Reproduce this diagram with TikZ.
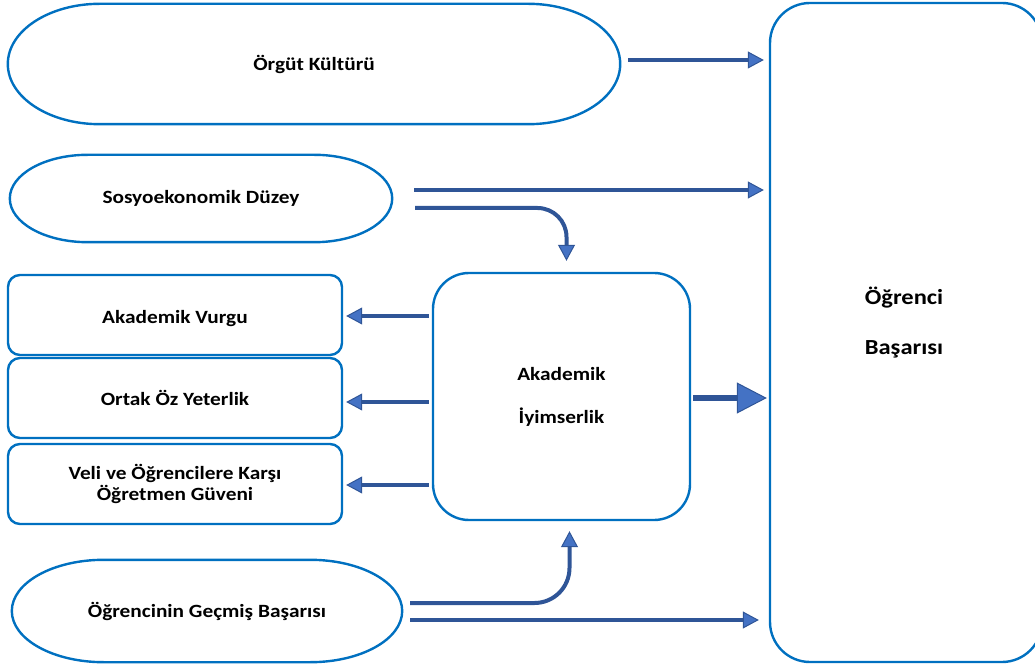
\documentclass[tikz,border=0pt]{standalone}
\usepackage{fontspec}
\setmainfont{Carlito}[FakeStretch=1.14]
\usetikzlibrary{arrows.meta,calc}
\definecolor{boxblue}{RGB}{0,112,192}
\definecolor{arrdark}{RGB}{47,85,151}
\definecolor{arrfill}{RGB}{68,114,196}

% stadium outline with elliptical ends around a named node: #1 node, #2 end radius
\newcommand{\stadiumline}[2]{%
  \draw[boxline] let \p1=(#1.north west), \p2=(#1.south east), \n1={(\y1-\y2)/2} in
    (\x1+#2pt,\y1) -- (\x2-#2pt,\y1)
    arc[start angle=90, end angle=-90, x radius=#2pt, y radius=\n1]
    -- (\x1+#2pt,\y2)
    arc[start angle=270, end angle=90, x radius=#2pt, y radius=\n1] -- cycle;}

\begin{document}
\begin{tikzpicture}[x=1pt,y=1pt,
  boxline/.style={draw=boxblue, line width=2.4pt},
  lbl/.style={font=\fontsize{18.7}{22}\selectfont\bfseries, text=black, align=center, inner sep=0pt},
  biglbl/.style={lbl, font=\fontsize{21.5}{26}\selectfont\bfseries},
  shell/.style={lbl, draw=none},
  rbox/.style={lbl, boxline, rounded corners=#1},
  arr/.style={draw=arrdark, line width=4pt,
    -{Triangle[length=16pt,width=17pt,fill=arrfill,line width=1pt]}},
  bigarr/.style={draw=arrdark, line width=6.5pt,
    -{Triangle[length=30pt,width=31pt,fill=arrfill,line width=1pt]}},
]
\useasboundingbox (0,0) rectangle (1035,667);

% outcome box on the right
\node[rbox=40pt, minimum width=272pt, minimum height=659pt,
      label={[biglbl, yshift=10pt, xshift=-2pt]center:{Öğrenci\\[24pt]Başarısı}}] (ogr) at (906,334.5) {};

% input factors
\node[shell, minimum width=612pt, minimum height=120pt] (org) at (314,603) {Örgüt Kültürü};
\stadiumline{org}{92}
\node[shell, minimum width=382pt, minimum height=87pt] (sos) at (201,468.5) {Sosyoekonomik Düzey};
\stadiumline{sos}{78}
\node[shell, minimum width=390pt, minimum height=102pt] (gec) at (207,56) {Öğrencinin Geçmiş Başarısı};
\stadiumline{gec}{92}

% central construct and its dimensions
\node[rbox=36pt, minimum width=257pt, minimum height=247pt] (ak) at (561.5,270.5)
  {Akademik\\[21pt]İyimserlik};
\node[rbox=12pt, minimum width=334pt, minimum height=80pt,
      label={[lbl, yshift=-4pt]center:Akademik Vurgu}] (vur) at (175,352) {};
\node[rbox=12pt, minimum width=334pt, minimum height=80pt] (ort) at (175,269) {Ortak Öz Yeterlik};
\node[rbox=12pt, minimum width=334pt, minimum height=80pt] (vel) at (175,183)
  {Veli ve Öğrencilere Karşı\\[-1pt]Öğretmen Güveni};

% direct effects on the outcome
\draw[arr, shorten >=5pt] ([shift={(8,4)}]org.east) coordinate (s1) -- (s1 -| ogr.west);
\draw[arr, shorten >=5pt] ([shift={(22,8.5)}]sos.east) coordinate (s2) -- (s2 -| ogr.west);
\draw[arr, shorten >=10pt] ([shift={(8,-9)}]gec.east) coordinate (s3) -- (s3 -| ogr.west);
\draw[bigarr, shorten >=2pt] ([shift={(2,-1.5)}]ak.east) coordinate (s4) -- (s4 -| ogr.west);

% curved paths into the central construct
\draw[arr] ([shift={(23,-9.5)}]sos.east) coordinate (s5) -- ($(s5 -| ak.north)+(-24,0)$)
  arc[start angle=90, end angle=0, radius=29] -- ([shift={(5,11)}]ak.north);
\draw[arr] ([shift={(8,8)}]gec.east) coordinate (s6) -- ($(s6 -| ak.south)+(-27,0)$)
  arc[start angle=-90, end angle=0, radius=35] -- ([shift={(8,-10)}]ak.south);

% construct to its dimensions
\draw[arr] ([shift={(-3,-1)}]ak.west |- vur.center) -- ([xshift=3pt,yshift=-1pt]vur.east);
\draw[arr] ([shift={(-3,-4)}]ak.west |- ort.center) -- ([xshift=3pt,yshift=-4pt]ort.east);
\draw[arr] ([shift={(-3,-1)}]ak.west |- vel.center) -- ([xshift=3pt,yshift=-1pt]vel.east);
\end{tikzpicture}
\end{document}
